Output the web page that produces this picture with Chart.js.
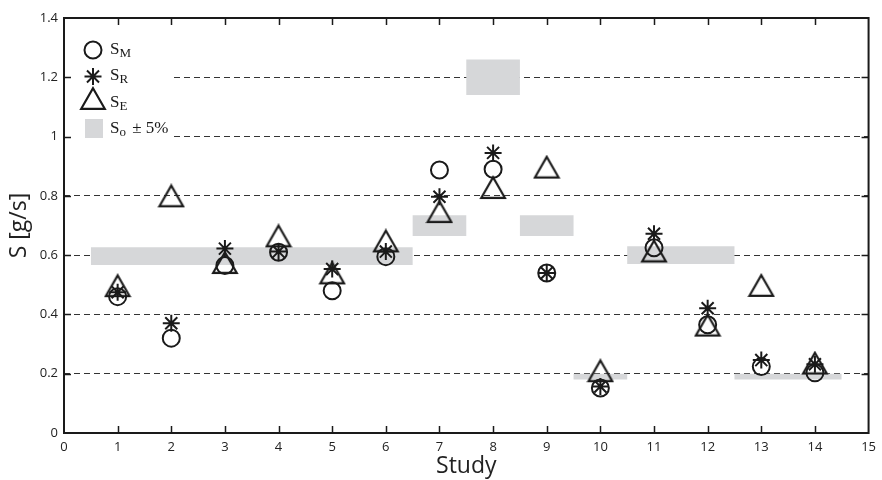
<!DOCTYPE html>
<html>
<head>
<meta charset='utf-8' />
<title>S per study</title>
<script src="https://cdn.jsdelivr.net/npm/chart.js@4/dist/chart.umd.min.js"></script>
<style>
body { margin:0; padding:0; background:#fff; }
#wrap { width:882px; height:480px; }
</style>
</head>
<body>
<div id="wrap"><canvas id="chart" width="882" height="480"></canvas></div>
<script>

/* data */
const studies = [1, 2, 3, 4, 5, 6, 7, 8, 9, 10, 11, 12, 13, 14];
const sM = [0.46, 0.32, 0.565, 0.61, 0.48, 0.595, 0.887, 0.89, 0.54, 0.152, 0.625, 0.365, 0.224, 0.203];
const sR = [0.475, 0.37, 0.622, 0.612, 0.553, 0.612, 0.797, 0.945, 0.54, 0.157, 0.672, 0.421, 0.246, 0.232];
const sE = [0.497, 0.8, 0.575, 0.665, 0.54, 0.648, 0.747, 0.828, 0.897, 0.21, 0.614, 0.364, 0.498, 0.236];

// S_o bands (+-5%), each from soEdges[i] to soEdges[i+1]
const soEdges = [0.5, 6.5, 7.5, 8.5, 9.5, 10.5, 12.5, 14.5];
const soValues = [0.597, 0.7, 1.2, 0.7, 0.19, 0.6, 0.19];
const soTol = 0.05;

const xMin = 0, xMax = 15, xStep = 1;
const yMin = 0, yMax = 1.4, yStep = 0.2;

const INK = '#1a1a1a';
const BAND = '#d6d7d9';

/* triangle marker, centred on its box like the original */
const makeTriangle = (w, h, lw) => {
  const c = document.createElement('canvas');
  c.width = w; c.height = h;
  const g = c.getContext('2d');
  g.strokeStyle = INK;
  g.lineWidth = lw;
  g.lineJoin = 'miter';
  g.beginPath();
  g.moveTo(w / 2, lw);
  g.lineTo(w - lw, h - lw);
  g.lineTo(lw, h - lw);
  g.closePath();
  g.stroke();
  return c;
};
const triangle = makeTriangle(28, 25, 2.2);

const pts = (vals) => studies.map((x, i) => ({x: x, y: vals[i]}));
// the last edge repeats the last value so the step line closes the band
const bandPts = (sign) => soEdges.map((x, i) => ({
  x: x,
  y: soValues[Math.min(i, soValues.length - 1)] * (1 + sign * soTol)
}));

/*************************************************/
/* plugins                                       */
/*************************************************/

// white box behind the legend (hides the grid lines there)
const legendBox = {
  id: 'legendBox',
  beforeDatasetsDraw(chart) {
    const {ctx, chartArea} = chart;
    ctx.save();
    ctx.fillStyle = '#fff';
    ctx.fillRect(chartArea.left + 1, chartArea.top + 1, 106, 140);
    ctx.restore();
  },
  afterDatasetsDraw(chart) {
    const {ctx, chartArea} = chart;
    const x0 = chartArea.left + 29;
    const y0 = chartArea.top;
    ctx.save();
    ctx.strokeStyle = INK;
    ctx.lineWidth = 2;
    // circle
    ctx.beginPath();
    ctx.arc(x0, y0 + 32, 8.5, 0, Math.PI * 2);
    ctx.stroke();
    // asterisk
    const ay = y0 + 58.5, r = 8.5;
    ctx.beginPath();
    for (let k = 0; k < 4; k++) {
      const a = k * Math.PI / 4;
      ctx.moveTo(x0 - Math.cos(a) * r, ay - Math.sin(a) * r);
      ctx.lineTo(x0 + Math.cos(a) * r, ay + Math.sin(a) * r);
    }
    ctx.stroke();
    // triangle
    ctx.drawImage(triangle, x0 - 14, y0 + 80.5 - 12.5);
    // grey square
    ctx.fillStyle = BAND;
    ctx.fillRect(x0 - 8, y0 + 101, 18, 19);

    // labels
    ctx.fillStyle = INK;
    ctx.textBaseline = 'alphabetic';
    const lab = (y, sub, rest) => {
      let x = chartArea.left + 46;
      ctx.font = '17px "Liberation Serif", serif';
      ctx.fillText('S', x, y);
      x += ctx.measureText('S').width;
      ctx.font = '13px "Liberation Serif", serif';
      ctx.fillText(sub, x, y + 3);
      x += ctx.measureText(sub).width;
      if (rest) {
        ctx.font = '17px "Liberation Serif", serif';
        ctx.fillText(rest, x + 2, y);
      }
    };
    lab(y0 + 36, 'M');
    lab(y0 + 62, 'R');
    lab(y0 + 89, 'E');
    lab(y0 + 115, 'o', ' \u00b1 5%');
    ctx.restore();
  }
};

// box round the plot with inward ticks on all four sides
const frame = {
  id: 'frame',
  afterDraw(chart) {
    const {ctx, chartArea, scales} = chart;
    const {left, right, top, bottom} = chartArea;
    const tl = 7;
    ctx.save();
    ctx.strokeStyle = INK;
    ctx.lineWidth = 1.5;
    ctx.beginPath();
    scales.x.ticks.forEach(t => {
      const px = Math.round(scales.x.getPixelForValue(t.value)) + 0.5;
      if (px <= left + 1 || px >= right - 1) return;
      ctx.moveTo(px, bottom); ctx.lineTo(px, bottom - tl);
      ctx.moveTo(px, top); ctx.lineTo(px, top + tl);
    });
    scales.y.ticks.forEach(t => {
      const py = Math.round(scales.y.getPixelForValue(t.value)) + 0.5;
      if (py <= top + 1 || py >= bottom - 1) return;
      ctx.moveTo(left, py); ctx.lineTo(left + tl, py);
      ctx.moveTo(right, py); ctx.lineTo(right - tl, py);
    });
    ctx.stroke();
    ctx.lineWidth = 2;
    ctx.strokeRect(left, top, right - left, bottom - top);
    ctx.restore();
  }
};

/*************************************************/
/* chart                                         */
/*************************************************/

const tickFont = {family: '"Open Sans", sans-serif', size: 13};
const titleFont = {family: '"Open Sans", sans-serif', size: 23};

const chart = new Chart(document.getElementById('chart'), {
  type: 'scatter',
  data: {
    datasets: [
      {
        label: 'S_M',
        data: pts(sM),
        pointStyle: 'circle',
        pointRadius: 8.5,
        pointBorderWidth: 2,
        borderColor: INK,
        pointBackgroundColor: 'rgba(0,0,0,0)',
        order: 1
      },
      {
        label: 'S_R',
        data: pts(sR),
        pointStyle: 'star',
        pointRadius: 8.5,
        pointBorderWidth: 2,
        borderColor: INK,
        order: 1
      },
      {
        label: 'S_E',
        data: pts(sE),
        pointStyle: triangle,
        pointRadius: 12,
        order: 1
      },
      {
        label: 'So +5%',
        type: 'line',
        data: bandPts(1),
        stepped: 'before',
        borderWidth: 0,
        borderColor: 'rgba(0,0,0,0)',
        pointRadius: 0,
        fill: false,
        order: 10
      },
      {
        label: 'So -5%',
        type: 'line',
        data: bandPts(-1),
        stepped: 'before',
        borderWidth: 0,
        borderColor: 'rgba(0,0,0,0)',
        backgroundColor: BAND,
        pointRadius: 0,
        fill: '-1',
        order: 10
      }
    ]
  },
  options: {
    responsive: false,
    animation: false,
    events: [],
    layout: {
      padding: {top: 18, right: 5, left: 0, bottom: 0}
    },
    plugins: {
      legend: {display: false},
      tooltip: {enabled: false}
    },
    scales: {
      x: {
        type: 'linear',
        min: xMin,
        max: xMax,
        afterFit: (s) => { s.height = 47; },
        ticks: {stepSize: xStep, color: '#222', font: tickFont, padding: 6, maxRotation: 0},
        grid: {display: false, drawTicks: false},
        border: {display: false},
        title: {display: true, text: 'Study', color: '#222', font: titleFont, padding: {top: 0, bottom: 0}}
      },
      y: {
        min: yMin,
        max: yMax,
        afterFit: (s) => { s.width = 64; },
        ticks: {
          stepSize: yStep,
          color: '#222',
          font: tickFont,
          padding: 6,
          callback: (v) => String(+v.toFixed(1))
        },
        grid: {color: '#333', lineWidth: 1, drawTicks: false},
        border: {display: false, dash: [6, 4]},
        title: {display: true, text: 'S [g/s]', color: '#222', font: titleFont, padding: {top: 6, bottom: 0}}
      }
    }
  },
  plugins: [legendBox, frame]
});

</script>
</body>
</html>
